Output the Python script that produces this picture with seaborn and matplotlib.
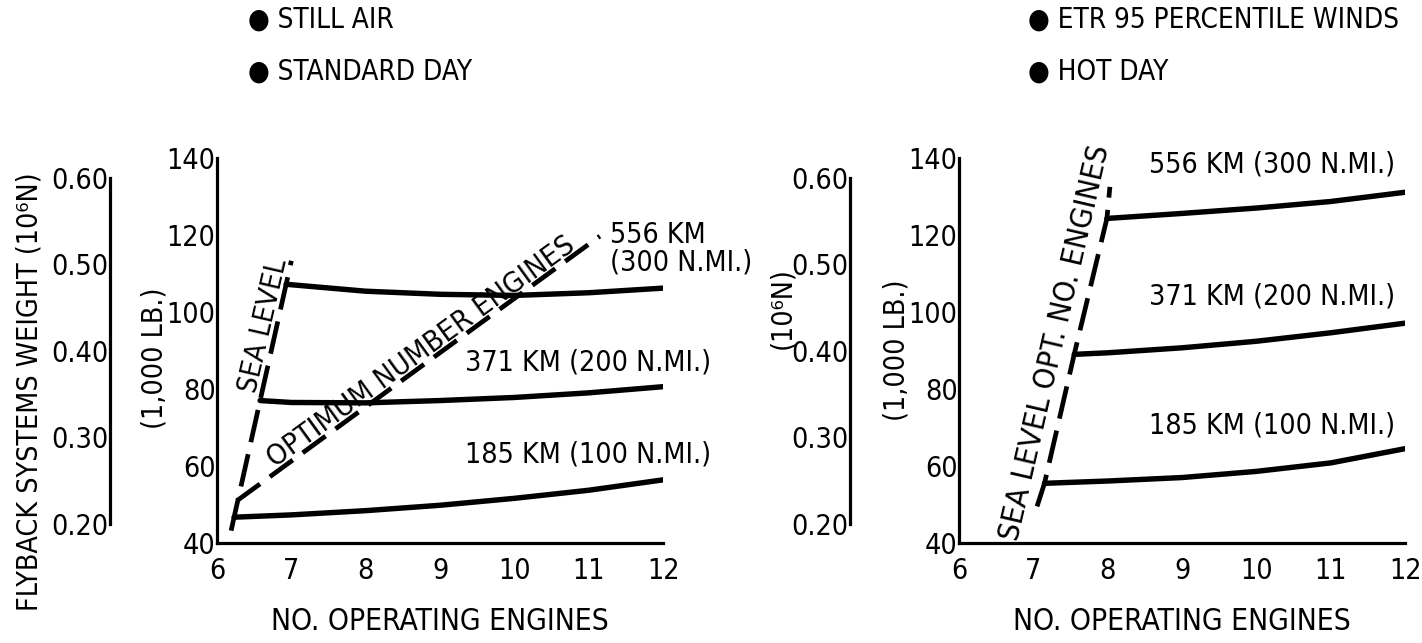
import numpy as np
import pandas as pd
import matplotlib
matplotlib.use("Agg")
import matplotlib.pyplot as plt
import seaborn as sns

# ---- data: number of operating engines vs. flyback systems weight (1,000 lb) ----
orbits = ["185 KM (100 N.MI.)", "371 KM (200 N.MI.)", "556 KM (300 N.MI.)"]

# still air, standard day
left_185_x = [6.23, 7, 8, 9, 10, 11, 12]
left_185_y = [46.7, 47.3, 48.4, 49.8, 51.6, 53.7, 56.4]
left_371_x = [6.58, 7, 8, 9, 10, 11, 12]
left_371_y = [77.0, 76.5, 76.4, 77.0, 77.8, 79.0, 80.6]
left_556_x = [6.93, 8, 9, 10, 11, 12]
left_556_y = [107.2, 105.4, 104.6, 104.3, 105.0, 106.2]
left_sea_x = [6.19, 6.23, 6.58, 6.93, 7.00]
left_sea_y = [43.2, 46.7, 77.0, 107.2, 113.3]
left_opt_x = [6.27, 11.15]
left_opt_y = [51.0, 119.7]

# ETR 95 percentile winds, hot day
right_185_x = [7.15, 8, 9, 10, 11, 12]
right_185_y = [55.5, 56.1, 57.0, 58.6, 60.8, 64.5]
right_371_x = [7.55, 8, 9, 10, 11, 12]
right_371_y = [89.0, 89.4, 90.7, 92.4, 94.6, 97.1]
right_556_x = [7.99, 9, 10, 11, 12]
right_556_y = [124.3, 125.6, 127.0, 128.7, 131.1]
right_sea_x = [7.05, 7.15, 7.55, 7.99, 8.03]
right_sea_y = [49.5, 55.5, 89.0, 124.3, 132.5]

x_ticks = [6, 7, 8, 9, 10, 11, 12]
y_ticks = [40, 60, 80, 100, 120, 140]
n_ticks = [0.20, 0.30, 0.40, 0.50, 0.60]
KLB_TO_MN = 0.00444822  # 1,000 lb -> 10^6 N

sns.set_theme(style="white")
FONT = ["DejaVu Sans", "Liberation Sans"]
plt.rcParams["font.family"] = FONT
plt.rcParams["font.stretch"] = "condensed"
plt.rcParams["text.color"] = "black"
plt.rcParams["xtick.color"] = "black"
plt.rcParams["ytick.color"] = "black"
plt.rcParams["xtick.labelcolor"] = "black"
plt.rcParams["ytick.labelcolor"] = "black"

W, H = 1422, 643
fig = plt.figure(figsize=(W / 100, H / 100), dpi=100)

AX_BOTTOM = (H - 543) / H
AX_HEIGHT = (543 - 158) / H
AX_WIDTH = (663 - 217) / W

SPINE_W = 2.3
TICK_LEN = 19
TICK_W = 1.8
CURVE_W = 3.9
FS_TICK = 20.5
FS_LABEL = 20.5
FS_HEAD = 20


def style_main(ax):
    ax.set_xlim(6, 12)
    ax.set_ylim(40, 140)
    ax.set_xticks(x_ticks)
    ax.set_yticks(y_ticks)
    ax.set_xticklabels([str(t) for t in x_ticks])
    ax.set_yticklabels([str(t) for t in y_ticks])
    ax.tick_params(axis="both", direction="in", length=TICK_LEN, width=TICK_W,
                   color="black", labelsize=FS_TICK, labelcolor="black")
    ax.tick_params(axis="y", pad=1)
    ax.tick_params(axis="x", pad=10)
    for s in ["top", "right"]:
        ax.spines[s].set_visible(False)
    for s in ["left", "bottom"]:
        ax.spines[s].set_linewidth(SPINE_W)
        ax.spines[s].set_color("black")
    ax.set_xlabel("")
    ax.set_ylabel("")
    ax.set_facecolor("white")
    ax.text(0.5, -0.205, "NO. OPERATING ENGINES", transform=ax.transAxes,
            ha="center", va="center", fontsize=21.5)


def newton_axis(x_px):
    nax = fig.add_axes([x_px / W, AX_BOTTOM, 0.0005, AX_HEIGHT])
    nax.set_ylim(40 * KLB_TO_MN, 140 * KLB_TO_MN)
    nax.set_xticks([])
    nax.set_yticks(n_ticks)
    nax.set_yticklabels([f"{t:.2f}" for t in n_ticks])
    nax.tick_params(axis="y", direction="in", length=TICK_LEN, width=TICK_W,
                    color="black", labelcolor="black", labelsize=FS_TICK, pad=1)
    for s in ["top", "right", "bottom"]:
        nax.spines[s].set_visible(False)
    nax.spines["left"].set_linewidth(SPINE_W)
    nax.spines["left"].set_color("black")
    nax.spines["left"].set_bounds(n_ticks[0], n_ticks[-1])
    nax.patch.set_alpha(0)
    return nax


def draw_curves(ax, xs, ys):
    rows = []
    for name, xv, yv in zip(orbits, xs, ys):
        for a, b in zip(xv, yv):
            rows.append({"engines": a, "weight": b, "orbit": name})
    df = pd.DataFrame(rows)
    sns.lineplot(data=df, x="engines", y="weight", units="orbit", estimator=None,
                 sort=False, color="black", linewidth=CURVE_W, ax=ax,
                 solid_capstyle="round", legend=False)


def draw_dashed(ax, xv, yv, pattern):
    sns.lineplot(x=xv, y=yv, sort=False, estimator=None, color="black",
                 linewidth=3.4, linestyle=(0, pattern), ax=ax, legend=False)


# ---------------- left panel ----------------
axL = fig.add_axes([217 / W, AX_BOTTOM, AX_WIDTH, AX_HEIGHT])
draw_curves(axL, [left_185_x, left_371_x, left_556_x],
            [left_185_y, left_371_y, left_556_y])
draw_dashed(axL, left_sea_x, left_sea_y, (7, 2.6))
draw_dashed(axL, left_opt_x, left_opt_y, (6, 2.6))
style_main(axL)

axL.text(6.63, 96.5, "SEA LEVEL", rotation=77, ha="center", va="center",
         fontsize=FS_LABEL, rotation_mode="anchor")
axL.text(8.75, 89.6, "OPTIMUM NUMBER ENGINES", rotation=36, ha="center",
         va="center", fontsize=21, rotation_mode="anchor")
axL.text(11.29, 116.4, "556 KM\n(300 N.MI.)", ha="left", va="center",
         fontsize=FS_LABEL, linespacing=1.0)
axL.text(9.34, 86.8, orbits[1], ha="left", va="center", fontsize=FS_LABEL)
axL.text(9.34, 62.9, orbits[0], ha="left", va="center", fontsize=FS_LABEL)

newton_axis(110)
fig.text(30 / W, 1 - 392 / H, "FLYBACK SYSTEMS WEIGHT (10\u2076N)", rotation=90,
         ha="center", va="center", fontsize=FS_LABEL)
fig.text(155 / W, 1 - 358 / H, "(1,000 LB.)", rotation=90,
         ha="center", va="center", fontsize=FS_LABEL)

fig.text(248 / W, 1 - 20 / H, "\u25CF STILL AIR", ha="left", va="center",
         fontsize=FS_HEAD)
fig.text(248 / W, 1 - 72 / H, "\u25CF STANDARD DAY", ha="left", va="center",
         fontsize=FS_HEAD)

# ---------------- right panel ----------------
axR = fig.add_axes([959 / W, AX_BOTTOM, AX_WIDTH, AX_HEIGHT])
draw_curves(axR, [right_185_x, right_371_x, right_556_x],
            [right_185_y, right_371_y, right_556_y])
draw_dashed(axR, right_sea_x, right_sea_y, (7, 2.6))
style_main(axR)

axR.text(7.30, 92.0, "SEA LEVEL OPT. NO. ENGINES", rotation=77, ha="center",
         va="center", fontsize=22, rotation_mode="anchor")
axR.text(8.56, 138.2, orbits[2], ha="left", va="center", fontsize=FS_LABEL)
axR.text(8.56, 103.9, orbits[1], ha="left", va="center", fontsize=FS_LABEL)
axR.text(8.56, 70.6, orbits[0], ha="left", va="center", fontsize=FS_LABEL)

newton_axis(850)
fig.text(782 / W, 1 - 308 / H, "(10\u2076N)", rotation=90,
         ha="center", va="center", fontsize=FS_LABEL)
fig.text(896 / W, 1 - 350 / H, "(1,000 LB.)", rotation=90,
         ha="center", va="center", fontsize=FS_LABEL)

fig.text(1028 / W, 1 - 20 / H, "\u25CF ETR 95 PERCENTILE WINDS", ha="left",
         va="center", fontsize=FS_HEAD)
fig.text(1028 / W, 1 - 72 / H, "\u25CF HOT DAY", ha="left", va="center",
         fontsize=FS_HEAD)

fig.savefig("out.png", dpi=100, facecolor="white")
